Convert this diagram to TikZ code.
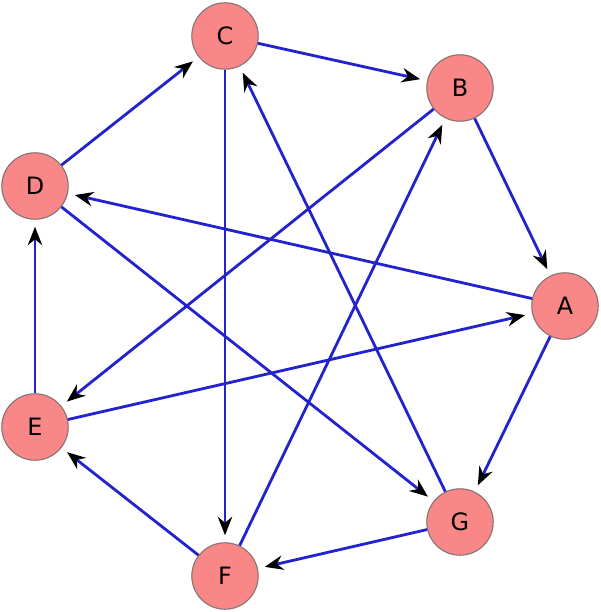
\documentclass[tikz,border=0pt]{standalone}
\usepackage{fontspec}
\setmainfont{DejaVu Sans}
\usepackage{xcolor}
\usetikzlibrary{arrows.meta}
\definecolor{nodepink}{RGB}{250,135,135}
\definecolor{nodeedge}{RGB}{135,115,115}
\definecolor{edgeblue}{RGB}{35,35,205}
\tikzset{
  vtx/.style={circle, draw=nodeedge, fill=nodepink, line width=0.8pt, minimum size=1.66cm, inner sep=0pt, font=\fontsize{17}{20}\selectfont},
  dedge/.style={edgeblue, line width=2pt, shorten >=5pt, -{Stealth[black, length=4.6mm, width=3.6mm, inset=1.5mm]}}
}

\begin{document}
\begin{tikzpicture}[x=0.025cm, y=-0.025cm]
  \useasboundingbox (0,0) rectangle (600,612);
  % Vertices
  \node[vtx] (C) at (225,36) {C};
  \node[vtx] (B) at (460,88) {B};
  \node[vtx] (D) at (35,186) {D};
  \node[vtx] (A) at (565,306) {A};
  \node[vtx] (E) at (35,427) {E};
  \node[vtx] (G) at (460,522) {G};
  \node[vtx] (F) at (225,576) {F};

  % Arcs
  \draw[dedge] (C)--(B);
  \draw[dedge] (D)--(C);
  \draw[dedge] (C)--(F);
  \draw[dedge] (B)--(A);
  \draw[dedge] (B)--(E);
  \draw[dedge] (A)--(D);
  \draw[dedge] (A)--(G);
  \draw[dedge] (E)--(A);
  \draw[dedge] (E)--(D);
  \draw[dedge] (D)--(G);
  \draw[dedge] (G)--(C);
  \draw[dedge] (G)--(F);
  \draw[dedge] (F)--(B);
  \draw[dedge] (F)--(E);
\end{tikzpicture}
\end{document}
